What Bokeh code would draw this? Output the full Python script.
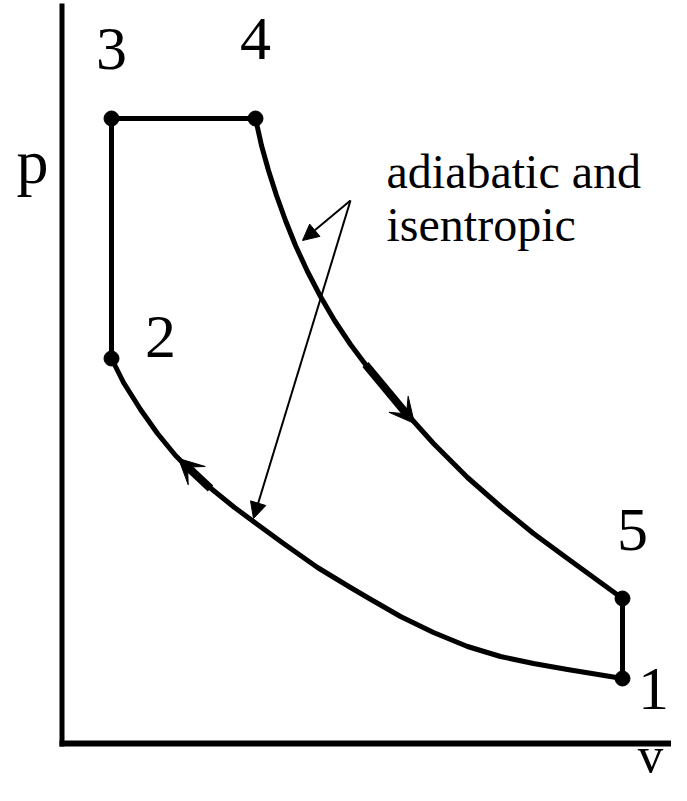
from bokeh.plotting import figure
from bokeh.models import Range1d, Arrow, VeeHead, NormalHead
from bokeh.core.properties import value
from bokeh.embed import file_html
from bokeh.resources import INLINE

# ---- data (arbitrary v / p units) ----
state_labels = ["1", "2", "3", "4", "5"]
state_v = [5.60, 0.49, 0.49, 1.93, 5.60]
state_p = [0.65, 3.85, 6.25, 6.25, 1.45]

# compression 1 -> 2 (adiabatic, isentropic)
comp_v = [5.60, 5.05, 4.71, 4.38, 4.05, 3.71, 3.38, 3.05, 2.88, 2.55, 2.21, 1.95, 1.72, 1.51, 1.32, 1.13, 0.95, 0.78, 0.61, 0.49]
comp_p = [0.65, 0.74, 0.80, 0.87, 0.97, 1.11, 1.27, 1.46, 1.56, 1.76, 2.00, 2.19, 2.36, 2.53, 2.69, 2.88, 3.10, 3.34, 3.61, 3.85]

# expansion 4 -> 5 (adiabatic, isentropic)
exp_v = [1.93, 1.99, 2.06, 2.14, 2.23, 2.33, 2.45, 2.58, 2.72, 2.88, 3.06, 3.25, 3.45, 3.71, 4.05, 4.38, 4.71, 5.05, 5.38, 5.60]
exp_p = [6.25, 5.98, 5.73, 5.48, 5.23, 4.98, 4.72, 4.47, 4.23, 3.99, 3.75, 3.52, 3.29, 3.00, 2.66, 2.37, 2.10, 1.85, 1.61, 1.45]

# constant-volume / constant-pressure legs: 2->3, 3->4, 5->1
leg_v = [[0.49, 0.49], [0.49, 1.93], [5.60, 5.60]]
leg_p = [[3.85, 6.25], [6.25, 6.25], [1.45, 0.65]]

# direction arrows along the curves (start, end)
flow_arrows = [((3.03, 3.79), (3.52, 3.20)), ((1.48, 2.55), (1.16, 2.85))]

# annotation
note_lines = ["adiabatic and", "isentropic"]
note_v = 3.24
note_p = [5.54, 5.01]
pointer_from = (2.88, 5.43)
pointer_to = [(2.40, 5.03), (1.91, 2.25)]

# label placement (px offsets right / up from each state point, to the text baseline)
label_dx = [31, 49, 0, 0, 10]
label_dy = [-34, -2, 46, 56, 45]

FONT_SHIFT = 0.38  # baseline correction, in em
SERIF = value("Liberation Serif")

p = figure(width=671, height=785, output_backend="svg", toolbar_location=None,
           x_range=Range1d(-0.62, 6.09), y_range=Range1d(-0.42, 7.43),
           min_border=0, outline_line_color=None)
p.xaxis.visible = False
p.yaxis.visible = False
p.grid.visible = False
p.background_fill_color = "white"
p.border_fill_color = "white"


def txt(xs, ys, texts, size, align="center"):
    ys = [y + FONT_SHIFT * size / 100 for y in ys]
    p.text(xs, ys, text=texts, text_font=SERIF, text_font_size=f"{size}px",
           text_align=align, text_baseline="alphabetic", text_color="black")


# axes lines
p.line([-0.005, -0.005], [-0.03, 7.40], line_width=5, line_color="black")
p.line([-0.03, 6.30], [0.0, 0.0], line_width=6, line_color="black")
txt([-0.30], [5.58], ["p"], 64)
txt([5.88], [-0.31], ["v"], 51)

# cycle
p.multi_line(leg_v, leg_p, line_width=5, line_color="black", line_cap="round")
p.line(comp_v, comp_p, line_width=5, line_color="black", line_join="round")
p.line(exp_v, exp_p, line_width=5, line_color="black", line_join="round")

for (s, e) in flow_arrows:
    p.add_layout(Arrow(end=VeeHead(size=25, fill_color="black", line_color="black", line_width=1),
                       x_start=s[0], y_start=s[1], x_end=e[0], y_end=e[1],
                       line_width=8, line_color="black"))

p.scatter(state_v, state_p, size=15, color="black")

txt([v + dx / 100 for v, dx in zip(state_v, label_dx)],
    [pp + dy / 100 for pp, dy in zip(state_p, label_dy)], state_labels, 62)

# annotation
txt([note_v, note_v], note_p, note_lines, 48, align="left")
for tv, tp in pointer_to:
    p.add_layout(Arrow(end=NormalHead(size=16, fill_color="black", line_color="black", line_width=1),
                       x_start=pointer_from[0], y_start=pointer_from[1], x_end=tv, y_end=tp,
                       line_width=2, line_color="black"))

open("out.html", "w").write(file_html(p, INLINE))
